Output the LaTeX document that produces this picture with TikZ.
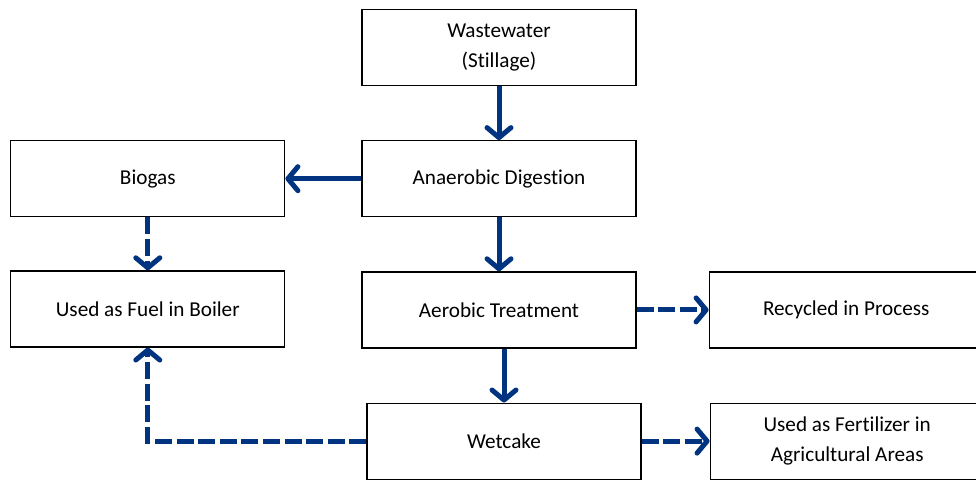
\documentclass[tikz,border=0pt]{standalone}
\usepackage{fontspec}
\setmainfont[Ligatures=NoCommon]{Carlito}
\usetikzlibrary{positioning,arrows.meta}
\definecolor{flowblue}{RGB}{0,51,128}
\tikzset{
	stage/.style={rectangle,draw=black,line width=0.6pt,minimum width=137pt,minimum height=38pt,align=center,inner sep=2pt,font=\fontsize{10.6}{15}\selectfont},
	flow/.style={-{Straight Barb[round,length=5pt,width=12pt]},draw=flowblue,line width=2.5pt},
	side/.style={flow,dash pattern=on 8.5pt off 2.3pt}
}
\begin{document}
\begin{tikzpicture}[x=0.5pt,y=-0.5pt]
\useasboundingbox (0,0) rectangle (976,479);
\clip (0,0) rectangle (976,479);
% main line
\node[stage] (Waste) at (499,47.5) {Wastewater\\(Stillage)};
\node[stage] (Anaerobic) [below=27pt of Waste] {Anaerobic Digestion};
\node[stage] (Aerobic) [below=27pt of Anaerobic] {Aerobic Treatment};
\node[stage] (Wetcake) [below=27pt of Aerobic,xshift=2.5pt] {Wetcake};
% by-products
\node[stage] (Biogas) [left=38pt of Anaerobic] {Biogas};
\node[stage] (Boiler) [below=26.5pt of Biogas] {Used as Fuel in Boiler};
\node[stage] (Recycled) [right=36pt of Aerobic] {Recycled in Process};
\node[stage] (Fertilizer) [right=34pt of Wetcake] {Used as Fertilizer in\\Agricultural Areas};
\draw[flow] (Waste) -- (Anaerobic);
\draw[flow] (Anaerobic) -- (Biogas);
\draw[flow] (Anaerobic) -- (Aerobic);
\draw[flow] (Aerobic.south -| Wetcake) -- (Wetcake);
\draw[side] (Biogas) -- (Boiler);
\draw[side] (Aerobic) -- (Recycled);
\draw[side] (Wetcake) -- (Fertilizer);
\draw[side] (Wetcake.west) -| (Boiler.south);
\end{tikzpicture}
\end{document}
